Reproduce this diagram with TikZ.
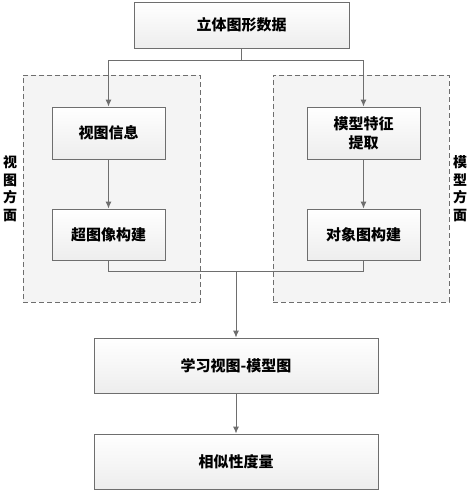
\documentclass[tikz,border=0pt]{standalone}
\usepackage{fontspec}
\newfontfamily\cjk{Noto Sans CJK SC}
\usepackage{tikz}
\usetikzlibrary{calc}
\usetikzlibrary{shapes,arrows,arrows.meta,positioning}
\definecolor{edgegray}{RGB}{110,110,110}
\tikzstyle{block} = [rectangle, draw=edgegray, line width=0.9pt, top color=white, bottom color=gray!14,
    text centered, font=\cjk\bfseries\fontsize{15}{19}\selectfont, inner sep=0pt]
\tikzstyle{group} = [rectangle, draw=edgegray, dash pattern=on 5pt off 3pt, line width=0.7pt, fill=gray!9]
\tikzstyle{side} = [text width=15pt, align=center, font=\cjk\bfseries\fontsize{14}{17.5}\selectfont]
\tikzstyle{line} = [draw=edgegray, line width=0.9pt, -{Latex[length=7pt,width=6pt]}]
\begin{document}
\begin{tikzpicture}[node distance = 100pt, auto]
\useasboundingbox (0,0) rectangle (474pt,-493pt);
%Groups:
\node[group, minimum width=177pt, minimum height=227pt] (G_view) at (111.5pt,-188.5pt) {};
\node[group, minimum width=176pt, minimum height=227pt] (G_model) at (361pt,-188.5pt) {};
\node[side, left of = G_view, node distance = 101.5pt] (G_view_t) {视\\图\\方\\面};
\node[side, right of = G_model, node distance = 99pt] (G_model_t) {模\\型\\方\\面};
%Blocks:
\node[block, minimum width=215pt, minimum height=46pt] (SD) at (241.5pt,-25pt) {立体图形数据};
\node[block, minimum width=113pt, minimum height=52pt, below of = SD, node distance = 108pt, xshift=-133pt] (VI) {视图信息};
\node[block, minimum width=113pt, minimum height=51pt, below of = VI, node distance = 101.5pt] (HG) {超图像构建};
\node[block, minimum width=113pt, minimum height=52pt, right of = VI, node distance = 255pt, align=center, font=\cjk\bfseries\fontsize{15}{19}\selectfont] (MF) {模型特征\\提取};
\node[block, minimum width=113pt, minimum height=51pt, right of = HG, node distance = 255pt] (OG) {对象图构建};
\node[block, minimum width=284pt, minimum height=55pt] (LG) at (236pt,-365.5pt) {学习视图-模型图};
\node[block, minimum width=284pt, minimum height=55pt, below of = LG, node distance = 96pt] (SM) {相似性度量};
%Connectors:
\coordinate (split) at ($(SD.south)+(0,-12pt)$);
\coordinate (join) at (236pt,-271pt);
\draw[edgegray, line width=0.9pt] (SD.south) -- (split);
\path[line] (split) -| (VI.north);
\path[line] (split) -| (MF.north);
\path[line] (VI) -- (HG);
\path[line] (MF) -- (OG);
\draw[edgegray, line width=0.9pt] (HG.south) |- (join);
\draw[edgegray, line width=0.9pt] (OG.south) |- (join);
\path[line] (join) -- (LG);
\path[line] (LG) -- (SM);
\end{tikzpicture}
\end{document}
